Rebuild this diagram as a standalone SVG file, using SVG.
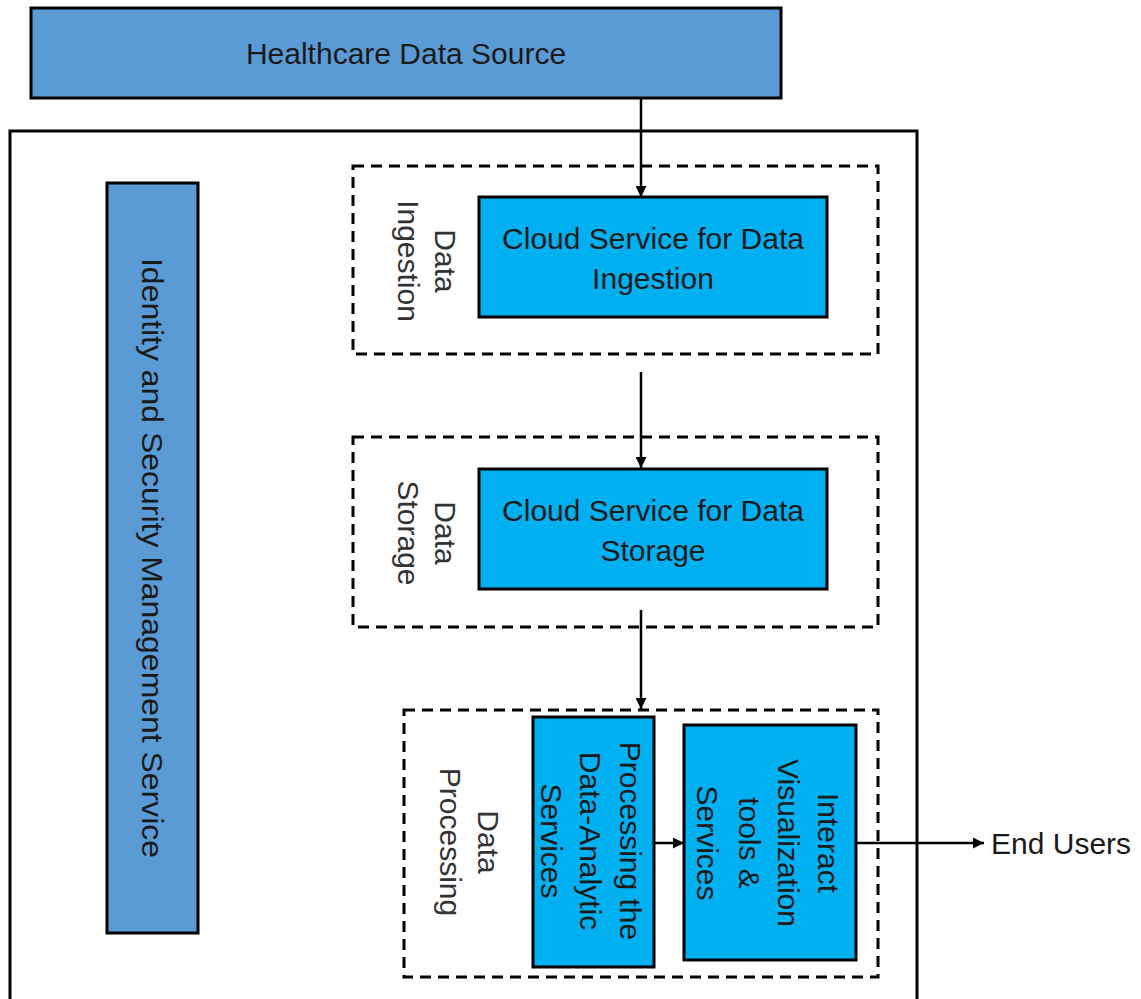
<svg xmlns="http://www.w3.org/2000/svg" width="1141" height="999" viewBox="0 0 1141 999">
  <style>
    .blue { fill: #5B9BD5; stroke: #000; stroke-width: 3; }
    .cyan { fill: #00B0F0; stroke: #000; stroke-width: 3; }
    .frame { fill: none; stroke: #000; stroke-width: 3; }
    .zone { fill: none; stroke: #000; stroke-width: 3; stroke-dasharray: 11 7; }
    .txt { font-family: "Liberation Sans", Arial, sans-serif; font-size: 30px; fill: #1a1a1a; text-anchor: middle; }
    .lbl { font-family: "Liberation Sans", Arial, sans-serif; font-size: 30px; fill: #333; text-anchor: middle; }
    .end { font-family: "Liberation Sans", Arial, sans-serif; font-size: 30px; fill: #1a1a1a; }
    .link { fill: none; stroke: #000; stroke-width: 2.5; }
  </style>
  <defs>
    <marker id="arrow" markerUnits="userSpaceOnUse" markerWidth="11" markerHeight="11" refX="11" refY="5.5" orient="auto">
      <path d="M0,0 L11,5.5 L0,11 z" fill="#000"/>
    </marker>
  </defs>

  <rect width="1141" height="999" fill="#fff"/>

  <!-- source at the top -->
  <g id="source">
    <rect class="blue" x="31" y="8" width="750" height="90"/>
    <text class="txt" x="406" y="64">Healthcare Data Source</text>
  </g>

  <!-- cloud platform boundary -->
  <g id="platform">
    <rect class="frame" x="10" y="131" width="907" height="880"/>
  </g>

  <g id="identity">
    <rect class="blue" x="107" y="183" width="91" height="750"/>
    <text class="txt" transform="translate(142,558) rotate(90)" textLength="600" lengthAdjust="spacingAndGlyphs">Identity and Security Management Service</text>
  </g>

  <g id="ingestion-zone">
    <rect class="zone" x="353" y="166" width="525" height="188"/>
    <text class="lbl" transform="translate(435,261) rotate(90)"><tspan x="0" y="0">Data</tspan><tspan x="0" y="37">Ingestion</tspan></text>
  </g>
  <g id="ingestion">
    <rect class="cyan" x="479" y="197" width="348" height="120"/>
    <text class="txt" x="653" y="249">Cloud Service for Data</text>
    <text class="txt" x="653" y="289">Ingestion</text>
  </g>

  <g id="storage-zone">
    <rect class="zone" x="353" y="437" width="525" height="190"/>
    <text class="lbl" transform="translate(435,533) rotate(90)"><tspan x="0" y="0">Data</tspan><tspan x="0" y="37">Storage</tspan></text>
  </g>
  <g id="storage">
    <rect class="cyan" x="479" y="469" width="348" height="120"/>
    <text class="txt" x="653" y="521">Cloud Service for Data</text>
    <text class="txt" x="653" y="561">Storage</text>
  </g>

  <g id="processing-zone">
    <rect class="zone" x="404" y="710" width="474" height="267"/>
    <text class="lbl" transform="translate(478,842) rotate(90)"><tspan x="0" y="0">Data</tspan><tspan x="0" y="38">Processing</tspan></text>
  </g>
  <g id="analytics">
    <rect class="cyan" x="533" y="717" width="121" height="250"/>
    <text class="txt" transform="translate(620,841) rotate(90)"><tspan x="0" y="0">Processing the</tspan><tspan x="0" y="40">Data-Analytic</tspan><tspan x="0" y="79">Services</tspan></text>
  </g>
  <g id="visualization">
    <rect class="cyan" x="684" y="725" width="172" height="235"/>
    <text class="txt" transform="translate(818,843) rotate(90)"><tspan x="0" y="0">Interact</tspan><tspan x="0" y="40">Visualization</tspan><tspan x="0" y="79">tools &amp;</tspan><tspan x="0" y="121">Services</tspan></text>
  </g>

  <g id="end-users">
    <text class="end" x="991" y="854">End Users</text>
  </g>

  <g id="connectors">
    <line class="link" x1="641" y1="98" x2="641" y2="197" marker-end="url(#arrow)"/>
    <line class="link" x1="641" y1="372" x2="641" y2="468" marker-end="url(#arrow)"/>
    <line class="link" x1="641" y1="610" x2="641" y2="709" marker-end="url(#arrow)"/>
    <line class="link" x1="654" y1="843" x2="684" y2="843" marker-end="url(#arrow)"/>
    <line class="link" x1="856" y1="843" x2="984" y2="843" marker-end="url(#arrow)"/>
  </g>
</svg>
